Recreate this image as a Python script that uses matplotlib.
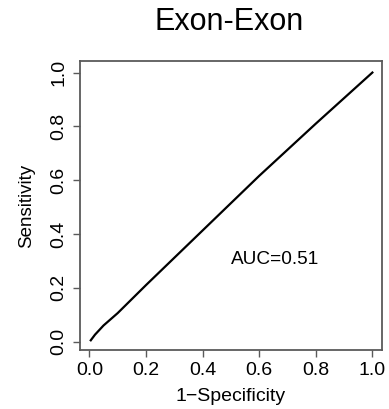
import matplotlib
matplotlib.use("Agg")
import matplotlib.pyplot as plt

fpr = [0.005, 0.02, 0.05, 0.10, 0.20, 0.40, 0.60, 0.80, 1.00]
tpr = [0.005, 0.026, 0.06, 0.106, 0.21, 0.413, 0.616, 0.81, 1.00]
ticks = [0.0, 0.2, 0.4, 0.6, 0.8, 1.0]
tick_labels = ["0.0", "0.2", "0.4", "0.6", "0.8", "1.0"]
title = "Exon-Exon"
auc_text = "AUC=0.51"

plt.rcParams['font.family'] = ['Liberation Sans', 'DejaVu Sans']

fig = plt.figure(figsize=(3.89, 4.09), dpi=100)
ax = fig.add_axes([0.2057, 0.1443, 0.7763, 0.7066])
ax.plot(fpr, tpr, color='black', lw=1.6)
ax.set_xlim(-0.033, 1.034)
ax.set_ylim(-0.031, 1.043)
ax.set_xticks(ticks)
ax.set_xticklabels(tick_labels, fontsize=14)
ax.set_yticks(ticks)
ax.set_yticklabels(tick_labels, fontsize=14, rotation=90, va='center')
for s in ax.spines.values():
    s.set_color('#5a5a5a')
    s.set_linewidth(1.3)
ax.tick_params(direction='out', length=5, width=1.0, color='#5a5a5a', pad=4)
ax.set_xlabel("1\u2212Specificity", fontsize=14, labelpad=6)
ax.set_ylabel("Sensitivity", fontsize=13.5, labelpad=11)
ax.text(0.655, 0.304, auc_text, ha='center', va='center', fontsize=13.7)
fig.text(0.5887, 0.946, title, ha='center', va='center', fontsize=22)
fig.savefig("out.png", dpi=100)
